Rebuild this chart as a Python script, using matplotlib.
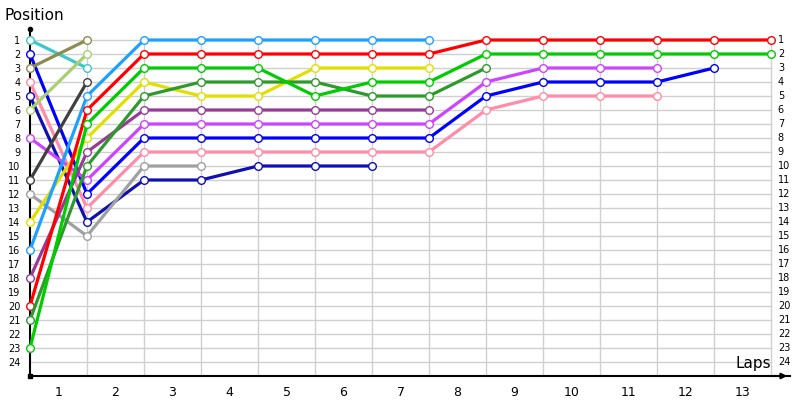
import matplotlib
matplotlib.use('Agg')
import matplotlib.pyplot as plt

# position of each driver after each lap (index 0 = start grid)
drivers = ['cyan', 'blue', 'olive', 'pink', 'navy', 'lightgreen', 'magenta',
           'darkgray', 'gray', 'yellow', 'skyblue', 'purple', 'red',
           'darkgreen', 'green']
cyan = [1, 3]
blue = [2, 12, 8, 8, 8, 8, 8, 8, 5, 4, 4, 4, 3]
olive = [3, 1]
pink = [4, 13, 9, 9, 9, 9, 9, 9, 6, 5, 5, 5]
navy = [5, 14, 11, 11, 10, 10, 10]
lightgreen = [6, 2]
magenta = [8, 11, 7, 7, 7, 7, 7, 7, 4, 3, 3, 3]
darkgray = [11, 4]
gray = [12, 15, 10, 10]
yellow = [14, 8, 4, 5, 5, 3, 3, 3]
skyblue = [16, 5, 1, 1, 1, 1, 1, 1]
purple = [18, 9, 6, 6, 6, 6, 6, 6]
red = [20, 6, 2, 2, 2, 2, 2, 2, 1, 1, 1, 1, 1, 1]
darkgreen = [21, 10, 5, 4, 4, 4, 5, 5, 3]
green = [23, 7, 3, 3, 3, 5, 4, 4, 2, 2, 2, 2, 2, 2]

laps = list(range(1, 14))
positions = list(range(1, 25))

series = {
    'cyan': (cyan, '#3cc8c8'),
    'blue': (blue, '#0000ff'),
    'olive': (olive, '#8c8c50'),
    'pink': (pink, '#ff8ca8'),
    'navy': (navy, '#1010b0'),
    'lightgreen': (lightgreen, '#a8d070'),
    'magenta': (magenta, '#cc44ff'),
    'darkgray': (darkgray, '#404040'),
    'gray': (gray, '#a0a0a0'),
    'yellow': (yellow, '#e0e000'),
    'skyblue': (skyblue, '#1ea0ff'),
    'purple': (purple, '#963c96'),
    'red': (red, '#ff0000'),
    'darkgreen': (darkgreen, '#2e9a2e'),
    'green': (green, '#00cc00'),
}

fig = plt.figure(figsize=(8, 4), dpi=100)
ax = fig.add_axes([30 / 800, 24 / 400, 760 / 800, 350 / 400])
xmax = 760 / 57
ax.set_xlim(0, xmax)
ax.set_ylim(25, 0)

# grid
for p in positions:
    ax.plot([0, laps[-1]], [p, p], color='#d0d0d0', lw=1, zorder=1)
for l in laps:
    ax.plot([l, l], [positions[0], 25], color='#d0d0d0', lw=1, zorder=1)

for name in drivers:
    vals, col = series[name]
    ax.plot(range(len(vals)), vals, color=col, lw=2.3, marker='o', ms=5.5,
            mfc='white', mec=col, mew=1, zorder=3, clip_on=False)

for sp in ['top', 'right']:
    ax.spines[sp].set_visible(False)
ax.spines['left'].set_linewidth(1.5)
ax.spines['bottom'].set_linewidth(1.5)
ax.spines['left'].set_bounds(0.2, 25)

ax.set_yticks(positions)
ax.set_yticklabels([str(p) for p in positions], fontsize=7)
ax.set_xticks([l - 0.5 for l in laps])
ax.set_xticklabels([str(l) for l in laps], fontsize=9)
ax.tick_params(axis='both', length=0)
ax.tick_params(axis='y', pad=7)
ax.tick_params(axis='x', pad=7)

for p in positions:
    ax.text(laps[-1] + 0.12, p, str(p), fontsize=7, va='center', ha='left')

# axis decorations
ax.plot([0], [0.2], marker='o', ms=3, color='black', clip_on=False, zorder=5)
ax.plot([0], [25], marker='s', ms=2.5, color='black', clip_on=False, zorder=5)
ax.annotate('', xy=(xmax, 25), xytext=(xmax - 0.35, 25),
            arrowprops=dict(arrowstyle='-|>', color='black', lw=1.5,
                            mutation_scale=8), annotation_clip=False)

fig.text(4 / 800, 1 - 16 / 400, 'Position', fontsize=11, va='center', ha='left')
fig.text(771 / 800, 1 - 371 / 400, 'Laps', fontsize=11, va='bottom', ha='right')

fig.savefig('out.png', dpi=100)
